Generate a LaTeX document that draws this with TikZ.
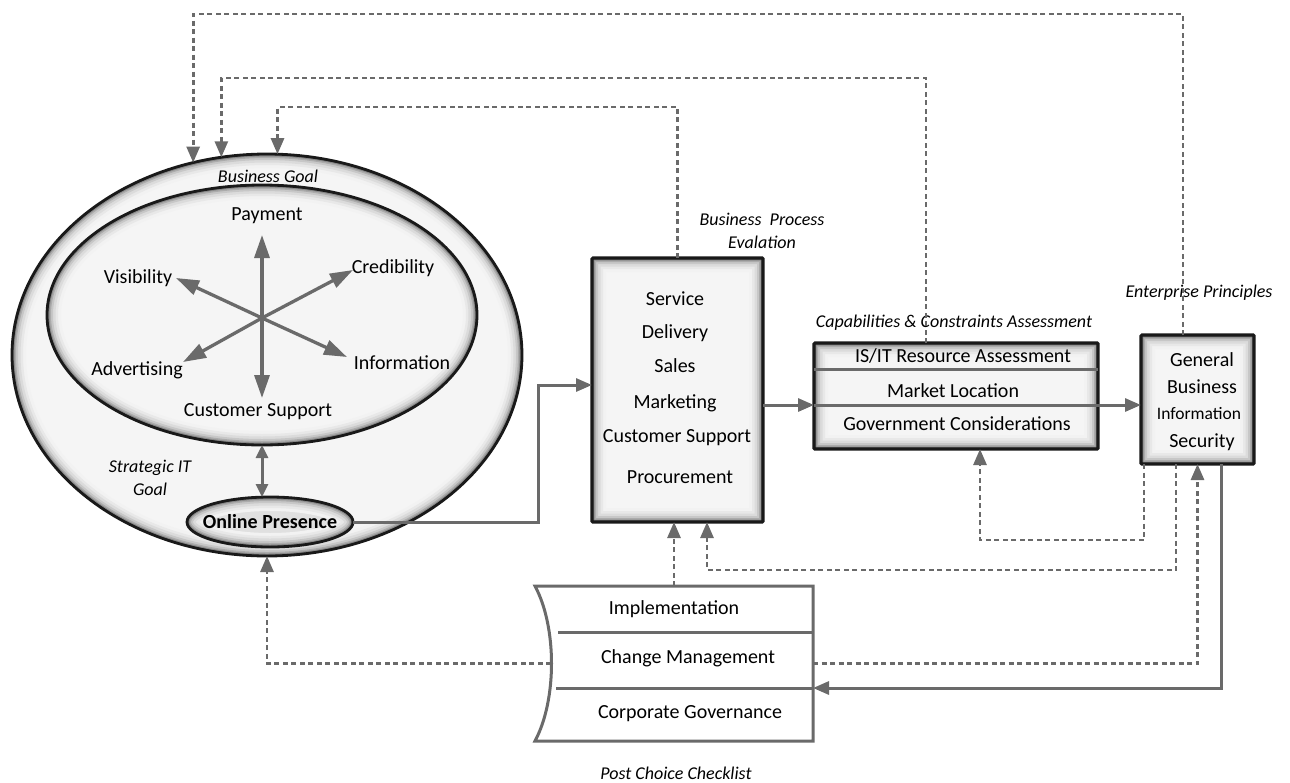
\documentclass[tikz,border=0pt]{standalone}
\usepackage{fontspec}
\setmainfont{Carlito}
\usetikzlibrary{shapes.geometric,arrows.meta,calc}

\definecolor{linegray}{HTML}{6A6A6A}
\definecolor{panel}{HTML}{F5F5F5}

\tikzset{
  txt/.style={font=\fontsize{20}{24}\selectfont, inner sep=0pt},
  smalltxt/.style={font=\fontsize{17.5}{21}\selectfont, inner sep=0pt},
  capt/.style={font=\fontsize{18}{23}\selectfont\itshape, inner sep=0pt, align=center},
  glowrect/.style={path picture={
     \foreach \w/\c in {28/5,22/9,17/14,12/22,8/33,5/46,2.5/62}
       \draw[line width=\w pt, black!\c]
         (path picture bounding box.south west) rectangle (path picture bounding box.north east);}},
  glowell/.style 2 args={path picture={
     \foreach \w/\c in {28/5,22/9,17/14,12/22,8/33,5/46,2.5/62}
       \draw[line width=\w pt, black!\c]
         (path picture bounding box.center) ellipse [x radius=#1, y radius=#2];}},
  boxnode/.style={rectangle, draw=black!90, line width=3.2pt, fill=panel, glowrect,
     inner sep=0pt, outer sep=0pt, rounded corners=1pt},
  ellnode/.style={ellipse, draw=black!90, line width=2.8pt, fill=panel,
     inner sep=0pt, outer sep=0pt},
  tip/.style={-{Triangle[length=16pt,width=13pt]}},
  conn/.style={draw=linegray, line width=3pt},
  dconn/.style={draw=linegray, line width=2.8pt, dash pattern=on 5pt off 3.5pt},
  spoke/.style={draw=linegray, line width=3.3pt, -{Triangle[length=23pt,width=15pt]}},
  divline/.style={draw=linegray, line width=3pt},
}

\begin{document}
\begin{tikzpicture}[x=1pt, y=-1pt]
\useasboundingbox (0,0) rectangle (1290,782);

% ---------- goal ellipses ----------
\node[ellnode, glowell={255pt}{201pt}, minimum width=510pt, minimum height=402pt] (outer) at (267,355) {};
\node[ellnode, glowell={215pt}{130pt}, minimum width=430pt, minimum height=260pt] (inner) at (262,315) {};
\node[ellnode, fill=black!12, glowell={83pt}{25pt}, minimum width=166pt, minimum height=50pt] (op) at (270,522) {};
\node[txt, font=\fontsize{20}{24}\selectfont\bfseries] (optxt) at (270,522) {Online Presence};

\node[capt] (bgoal) at (268,176) {Business Goal};
\node[capt] (sgoal) at (150,478) {Strategic IT\\Goal};

% spokes of the business goals
\coordinate (hub) at (262,318);
\coordinate (tUp) at (262,235);
\coordinate (tDn) at (262,398);
\coordinate (tVis) at (176,278);
\coordinate (tCred) at (353,270);
\coordinate (tAdv) at (183,362);
\coordinate (tInf) at (347,357);
\foreach \t in {tUp,tDn,tVis,tCred,tAdv,tInf}
  \draw[spoke] (hub) -- (\t);

\node[txt] (lPay) at (267,216) {Payment};
\node[txt] (lVis) at (138,278) {Visibility};
\node[txt] (lCred) at (393,268) {Credibility};
\node[txt] (lAdv) at (137,370) {Advertising};
\node[txt] (lInf) at (402,363) {Information};
\node[txt] (lCS) at (258,412) {Customer Support};

\draw[conn, {Triangle[length=13pt,width=12pt]}-{Triangle[length=13pt,width=12pt]}]
  (inner.south) -- (inner.south |- op.north);

% ---------- business process box ----------
\node[boxnode, minimum width=171pt, minimum height=264pt] (pbox) at (677.5,390) {};
\node[txt] (p1) at (675,299) {Service};
\node[txt] (p2) at (675,333) {Delivery};
\node[txt] (p3) at (675,366) {Sales};
\node[txt] (p4) at (675,403) {Marketing};
\node[txt] (p5) at (677,438) {Customer Support};
\node[txt] (p6) at (680,477) {Procurement};
\node[capt] (pcap) at (762,230.5) {Business~~Process\\Evalation};

% ---------- capabilities box ----------
\node[boxnode, minimum width=284pt, minimum height=106pt] (cap) at (956,396) {};
\draw[divline] ($(cap.north west)+(0,26)$) -- ($(cap.north east)+(0,26)$);
\node[txt] (c1) at (963,356) {IS/IT Resource Assessment};
\node[txt] (c2) at (953,391) {Market Location};
\node[txt] (c3) at (957,424) {Government Considerations};
\node[capt] (ccap) at (954,323) {Capabilities \& Constraints Assessment};

% ---------- enterprise principles box ----------
\node[boxnode, minimum width=113pt, minimum height=129pt] (gen) at (1197.5,399.5) {};
\node[txt] (g1) at (1202,360) {General};
\node[txt] (g2) at (1202,387) {Business};
\node[smalltxt] (g3) at (1199,414) {Information};
\node[txt] (g4) at (1202,442) {Security};
\node[capt] (gcap) at (1199,293) {Enterprise Principles};

% ---------- post choice checklist ----------
\node[minimum width=278pt, minimum height=155pt, inner sep=0pt, outer sep=0pt] (chk) at (674,663.5) {};
\draw[draw=linegray, line width=3pt, fill=white]
  (chk.north west) -- (chk.north east) -- (chk.south east) -- (chk.south west)
  .. controls ($(chk.south west)+(22,-41)$) and ($(chk.north west)+(22,41)$) .. (chk.north west) -- cycle;
\draw[divline] ($(chk.north west)+(23,46)$) -- ($(chk.north east)+(0,46)$);
\draw[divline] ($(chk.north west)+(21,102)$) -- ($(chk.north east)+(0,102)$);
\node[txt] (k1) at (674,609) {Implementation};
\node[txt] (k2) at (688,658) {Change Management};
\node[txt] (k3) at (690,714) {Corporate Governance};
\node[capt] (kcap) at (676,773) {Post Choice Checklist};

% ---------- solid flow ----------
\draw[conn, tip] (op.east) -- ++(185,0) |- ($(pbox.west)+(0,-5)$);
\draw[conn, tip] ($(pbox.east)+(0,15)$) -- ($(cap.west)+(0,9)$);
\draw[conn, tip] ($(cap.west)+(0,9)$) -- ($(gen.west)+(0,5.5)$);
\draw[conn, tip] ($(gen.south)+(23.5,0)$) |- ($(chk.north east)+(0,102)$);

% ---------- feedback loops (dashed) ----------
\coordinate (lvTop) at (0,14);
\coordinate (lvMid) at (0,78);
\coordinate (lvLow) at (0,107);
\coordinate (gTop) at ($(gen.north west)+(42,0)$);
\coordinate (cTop) at ($(cap.north west)+(112,0)$);
\draw[dconn, tip] (gTop) -- (gTop |- lvTop) -| (outer.111.6);
\draw[dconn, tip] (cTop) -- (cTop |- lvMid) -| (outer.103.95);
\draw[dconn, tip] (pbox.north) -- (pbox.north |- lvLow) -| (outer.87.4);

\draw[dconn, tip] ($(gen.south west)+(3,0)$) |- ($(cap.south west)+(166,91)$) -- ($(cap.south west)+(166,0)$);
\draw[dconn, tip] ($(gen.south west)+(35,0)$) |- ($(pbox.south west)+(115,48)$) -- ($(pbox.south west)+(115,0)$);
\draw[dconn, tip] (chk.north) -- (chk.north |- pbox.south);
\draw[dconn, tip] ($(chk.west)+(16,0)$) -| (outer.south);
\draw[dconn, tip] (chk.east) -| (gen.south);

\end{tikzpicture}
\end{document}
